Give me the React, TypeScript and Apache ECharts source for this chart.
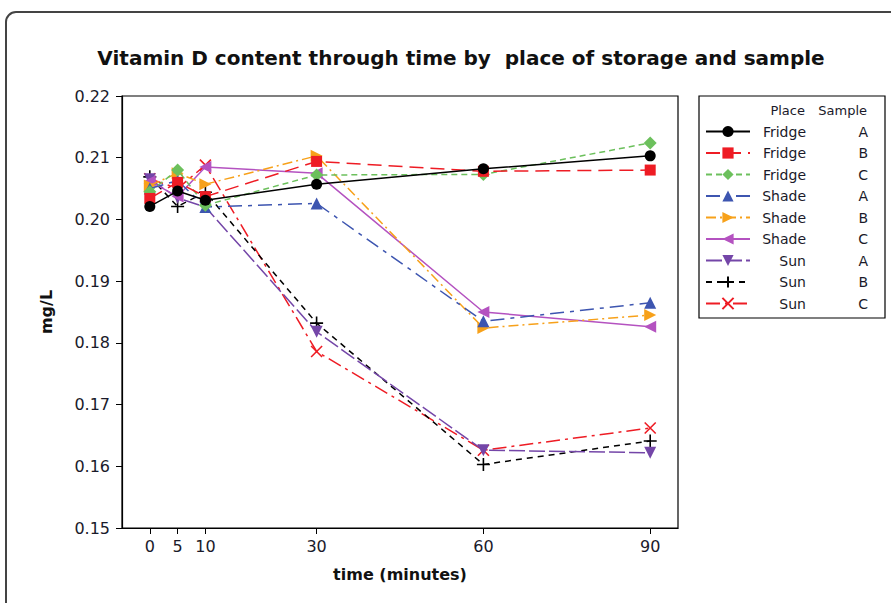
import React, { useEffect, useRef } from "react";
import * as echarts from "echarts";

const times = [0, 5, 10, 30, 60, 90];
const xTicks = [0, 5, 10, 30, 60, 90];
const places = ["Fridge", "Fridge", "Fridge", "Shade", "Shade", "Shade", "Sun", "Sun", "Sun"];
const samples = ["A", "B", "C", "A", "B", "C", "A", "B", "C"];

const fridgeA = [0.2021, 0.2046, 0.2031, 0.2057, 0.2082, 0.2103];
const fridgeB = [0.2034, 0.2060, 0.2037, 0.2094, 0.2078, 0.2080];
const fridgeC = [0.2045, 0.2080, 0.2023, 0.2072, 0.2073, 0.2124];
const shadeA = [0.2050, 0.2063, 0.2020, 0.2026, 0.1835, 0.1865];
const shadeB = [0.2055, 0.2075, 0.2057, 0.2103, 0.1824, 0.1845];
const shadeC = [0.2062, 0.2037, 0.2085, 0.2075, 0.1850, 0.1826];
const sunA = [0.2065, 0.2035, 0.2020, 0.1818, 0.1626, 0.1622];
const sunB = [0.2069, 0.2021, 0.2044, 0.1832, 0.1603, 0.1641];
const sunC = [0.2066, 0.2050, 0.2088, 0.1786, 0.1626, 0.1662];

const values = [fridgeA, fridgeB, fridgeC, shadeA, shadeB, shadeC, sunA, sunB, sunC];

const colors = ["#000000", "#ee1c24", "#6cc05c", "#3d55b0", "#f7a11a", "#b452c0", "#7446a8", "#000000", "#ee1c24"];
const symbols = [
  "circle",
  "rect",
  "diamond",
  "triangle",
  "path://M0,0L10,5L0,10Z",
  "path://M10,0L0,5L10,10Z",
  "path://M0,0L10,0L5,10Z",
  "path://M5,0L5,10M0,5L10,5",
  "path://M0,0L10,10M10,0L0,10",
];
const symbolSizes = [11, 11, 13, 12, 12, 12, 12, 13, 11];
const dashes: any[] = ["solid", [14, 7], [6, 4], [14, 6, 4, 6], [10, 4, 2, 4], "solid", [16, 4], [6, 5], [14, 5, 3, 5]];
const stroked = [false, false, false, false, false, false, false, true, true];

const FONT = "DejaVu Sans";

export default function App() {
  const ref = useRef<HTMLDivElement>(null);
  useEffect(() => {
    document.body.style.margin = "0";
    const chart = echarts.init(ref.current!, null, { renderer: "svg" });
    const series = values.map((vals, i) => ({
      name: places[i] + " " + samples[i],
      type: "line",
      data: times.map((t, j) => [t, vals[j]]),
      symbol: symbols[i],
      symbolSize: symbolSizes[i],
      showAllSymbol: true,
      lineStyle: { color: colors[i], width: 1.5, type: dashes[i] },
      itemStyle: stroked[i]
        ? { color: colors[i], borderColor: colors[i], borderWidth: 1.6 }
        : { color: colors[i], borderWidth: 0 },
      z: 10 - i,
    }));
    chart.setOption({
      animation: false,
      title: {
        text: "Vitamin D content through time by  place of storage and sample",
        left: 456,
        top: 43,
        textAlign: "center",
        textStyle: { fontFamily: FONT, fontSize: 20, fontWeight: "bold", color: "#111" },
      },
      grid: {
        left: 122,
        top: 96,
        right: 213,
        bottom: 75,
        show: true,
        borderColor: "#000",
        borderWidth: 1.2,
        backgroundColor: "transparent",
      },
      xAxis: {
        type: "value",
        min: -5,
        max: 95,
        name: "time (minutes)",
        nameLocation: "middle",
        nameGap: 38,
        nameTextStyle: { fontFamily: FONT, fontSize: 16, fontWeight: "bold", color: "#111" },
        axisLine: { onZero: false, lineStyle: { color: "#000", width: 1.2 } },
        axisTick: { show: true, length: 6, customValues: xTicks, lineStyle: { color: "#000" } },
        axisLabel: {
          customValues: xTicks,
          margin: 10,
          fontFamily: FONT,
          fontSize: 16,
          color: "#1a1a2a",
        },
        splitLine: { show: false },
      },
      yAxis: {
        type: "value",
        min: 0.15,
        max: 0.22,
        interval: 0.01,
        name: "mg/L",
        nameLocation: "middle",
        nameGap: 68,
        nameTextStyle: { fontFamily: FONT, fontSize: 16, fontWeight: "bold", color: "#111" },
        axisLine: { show: true, onZero: false, lineStyle: { color: "#000", width: 1.2 } },
        axisTick: { show: true, length: 6, lineStyle: { color: "#000" } },
        axisLabel: {
          margin: 12,
          fontFamily: FONT,
          fontSize: 16,
          color: "#1a1a2a",
          formatter: (v: number) => v.toFixed(2),
        },
        splitLine: { show: false },
      },
      legend: {
        orient: "vertical",
        left: 705,
        top: 123,
        padding: 0,
        itemWidth: 44,
        itemHeight: 14,
        itemGap: 4.5,
        selectedMode: false,
        formatter: (name: string) => {
          const [p, s] = name.split(" ");
          return "{p|" + p + "}{s|" + s + "}";
        },
        textStyle: {
          fontFamily: FONT,
          fontSize: 14,
          lineHeight: 17,
          color: "#1a1a2a",
          rich: {
            p: { width: 51, align: "right", fontFamily: FONT, fontSize: 14, lineHeight: 17, color: "#1a1a2a" },
            s: { width: 62, align: "right", fontFamily: FONT, fontSize: 14, lineHeight: 17, color: "#1a1a2a" },
          },
        },
        data: values.map((_, i) => places[i] + " " + samples[i]),
      },
      graphic: [
        {
          type: "rect",
          shape: { x: 6, y: 12, width: 1000, height: 800, r: 10 },
          style: { fill: "none", stroke: "#444", lineWidth: 2 },
          z: -10,
          silent: true,
        },
        {
          type: "rect",
          shape: { x: 699, y: 96, width: 186, height: 222 },
          style: { fill: "none", stroke: "#000", lineWidth: 1.2 },
          silent: true,
        },
        {
          type: "text",
          x: 805,
          y: 110,
          style: { text: "Place", align: "right", verticalAlign: "middle", font: "13px " + FONT, fill: "#1a1a2a" },
        },
        {
          type: "text",
          x: 867,
          y: 110,
          style: { text: "Sample", align: "right", verticalAlign: "middle", font: "13px " + FONT, fill: "#1a1a2a" },
        },
      ],
      series,
    });
    return () => chart.dispose();
  }, []);
  return <div ref={ref} style={{ width: 891, height: 603 }} />;
}
